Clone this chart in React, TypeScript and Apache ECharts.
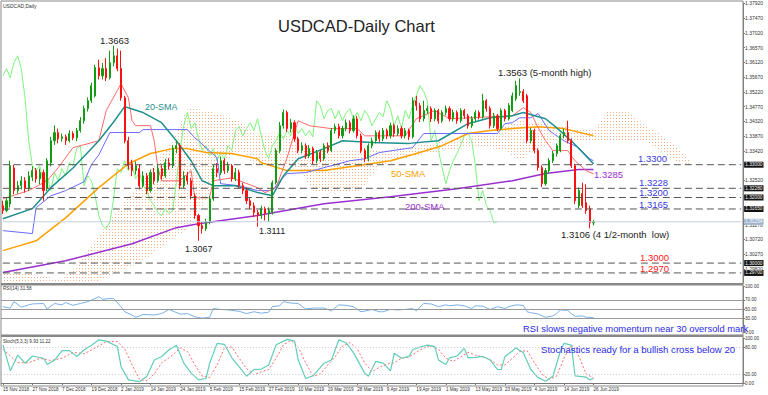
import React, { useEffect, useRef } from "react";
import * as echarts from "echarts";

const xTickLabels = ["15 Nov 2018", "27 Nov 2018", "7 Dec 2018", "19 Dec 2018", "2 Jan 2019", "14 Jan 2019", "24 Jan 2019", "5 Feb 2019", "15 Feb 2019", "27 Feb 2019", "10 Mar 2019", "19 Mar 2019", "28 Mar 2019", "9 Apr 2019", "19 Apr 2019", "1 May 2019", "13 May 2019", "23 May 2019", "4 Jun 2019", "14 Jun 2019", "26 Jun 2019"];
const slots = Array.from({ length: 201 }, (_, i) => String(i));

// [open, close, low, high]
const candles: number[][] = [
  [1.3175, 1.3160, 1.3150, 1.3190], [1.3160, 1.3190, 1.3155, 1.3200], [1.3180, 1.3297, 1.3170, 1.3312], [1.3290, 1.3221, 1.3210, 1.3300],
  [1.3221, 1.3236, 1.3212, 1.3250], [1.3236, 1.3251, 1.3225, 1.3265], [1.3251, 1.3227, 1.3215, 1.3262], [1.3227, 1.3266, 1.3220, 1.3280],
  [1.3262, 1.3282, 1.3250, 1.3295], [1.3282, 1.3257, 1.3245, 1.3290], [1.3257, 1.3276, 1.3240, 1.3288], [1.3276, 1.3221, 1.3190, 1.3285],
  [1.3227, 1.3312, 1.3220, 1.3320], [1.3306, 1.3373, 1.3295, 1.3385], [1.3373, 1.3398, 1.3360, 1.3420], [1.3398, 1.3379, 1.3365, 1.3410],
  [1.3379, 1.3385, 1.3370, 1.3395], [1.3385, 1.3373, 1.3360, 1.3392], [1.3373, 1.3395, 1.3368, 1.3405], [1.3395, 1.3382, 1.3375, 1.3402],
  [1.3382, 1.3404, 1.3372, 1.3412], [1.3404, 1.3434, 1.3398, 1.3445], [1.3434, 1.3471, 1.3425, 1.3480], [1.3471, 1.3495, 1.3462, 1.3505],
  [1.3495, 1.3541, 1.3488, 1.3550], [1.3510, 1.3596, 1.3505, 1.3605], [1.3596, 1.3571, 1.3560, 1.3620], [1.3571, 1.3593, 1.3560, 1.3610],
  [1.3593, 1.3565, 1.3555, 1.3625], [1.3565, 1.3611, 1.3560, 1.3648], [1.3611, 1.3632, 1.3600, 1.3663], [1.3632, 1.3593, 1.3585, 1.3654],
  [1.3593, 1.3504, 1.3495, 1.3648], [1.3504, 1.3373, 1.3365, 1.3510], [1.3373, 1.3297, 1.3285, 1.3385], [1.3303, 1.3282, 1.3265, 1.3315],
  [1.3282, 1.3297, 1.3270, 1.3310], [1.3288, 1.3236, 1.3225, 1.3300], [1.3236, 1.3266, 1.3230, 1.3280], [1.3266, 1.3221, 1.3210, 1.3275],
  [1.3221, 1.3276, 1.3215, 1.3285], [1.3276, 1.3251, 1.3240, 1.3290], [1.3251, 1.3288, 1.3245, 1.3300], [1.3288, 1.3266, 1.3255, 1.3298],
  [1.3266, 1.3306, 1.3260, 1.3318], [1.3306, 1.3297, 1.3285, 1.3320], [1.3297, 1.3349, 1.3290, 1.3360], [1.3349, 1.3358, 1.3335, 1.3375],
  [1.3358, 1.3236, 1.3225, 1.3365], [1.3236, 1.3266, 1.3228, 1.3280], [1.3266, 1.3251, 1.3240, 1.3278], [1.3251, 1.3205, 1.3195, 1.3260],
  [1.3205, 1.3145, 1.3135, 1.3212], [1.3145, 1.3114, 1.3068, 1.3150], [1.3114, 1.3105, 1.3090, 1.3125], [1.3105, 1.3126, 1.3098, 1.3135],
  [1.3126, 1.3196, 1.3118, 1.3205], [1.3196, 1.3288, 1.3190, 1.3300], [1.3288, 1.3276, 1.3262, 1.3305], [1.3276, 1.3312, 1.3268, 1.3325],
  [1.3312, 1.3282, 1.3272, 1.3320], [1.3282, 1.3297, 1.3275, 1.3308], [1.3297, 1.3257, 1.3248, 1.3302], [1.3257, 1.3276, 1.3250, 1.3290],
  [1.3276, 1.3236, 1.3228, 1.3285], [1.3236, 1.3221, 1.3210, 1.3245], [1.3221, 1.3190, 1.3180, 1.3230], [1.3190, 1.3175, 1.3165, 1.3200],
  [1.3175, 1.3154, 1.3140, 1.3185], [1.3154, 1.3145, 1.3111, 1.3162], [1.3145, 1.3166, 1.3135, 1.3175], [1.3166, 1.3151, 1.3130, 1.3172],
  [1.3151, 1.3160, 1.3125, 1.3170], [1.3154, 1.3245, 1.3148, 1.3252], [1.3245, 1.3343, 1.3240, 1.3350], [1.3343, 1.3419, 1.3335, 1.3430],
  [1.3419, 1.3459, 1.3410, 1.3468], [1.3459, 1.3410, 1.3400, 1.3465], [1.3410, 1.3428, 1.3398, 1.3440], [1.3428, 1.3379, 1.3370, 1.3435],
  [1.3379, 1.3343, 1.3335, 1.3385], [1.3343, 1.3358, 1.3335, 1.3368], [1.3358, 1.3327, 1.3318, 1.3365], [1.3327, 1.3349, 1.3320, 1.3360],
  [1.3349, 1.3312, 1.3302, 1.3355], [1.3312, 1.3337, 1.3305, 1.3345], [1.3337, 1.3318, 1.3308, 1.3345], [1.3318, 1.3358, 1.3312, 1.3365],
  [1.3358, 1.3343, 1.3335, 1.3368], [1.3343, 1.3404, 1.3338, 1.3412], [1.3404, 1.3416, 1.3395, 1.3425], [1.3416, 1.3388, 1.3380, 1.3425],
  [1.3388, 1.3410, 1.3380, 1.3418], [1.3410, 1.3428, 1.3402, 1.3438], [1.3428, 1.3404, 1.3395, 1.3435], [1.3404, 1.3440, 1.3398, 1.3450],
  [1.3440, 1.3388, 1.3380, 1.3448], [1.3388, 1.3343, 1.3335, 1.3395], [1.3343, 1.3318, 1.3308, 1.3350], [1.3318, 1.3358, 1.3310, 1.3365],
  [1.3358, 1.3373, 1.3350, 1.3382], [1.3373, 1.3398, 1.3365, 1.3405], [1.3398, 1.3379, 1.3370, 1.3405], [1.3379, 1.3404, 1.3372, 1.3412],
  [1.3404, 1.3388, 1.3378, 1.3410], [1.3388, 1.3419, 1.3380, 1.3428], [1.3419, 1.3395, 1.3385, 1.3425], [1.3395, 1.3410, 1.3388, 1.3420],
  [1.3410, 1.3388, 1.3380, 1.3418], [1.3388, 1.3404, 1.3380, 1.3412], [1.3404, 1.3385, 1.3375, 1.3410], [1.3385, 1.3495, 1.3380, 1.3505],
  [1.3495, 1.3480, 1.3465, 1.3510], [1.3480, 1.3440, 1.3430, 1.3488], [1.3440, 1.3465, 1.3432, 1.3495], [1.3465, 1.3471, 1.3455, 1.3480],
  [1.3471, 1.3440, 1.3430, 1.3478], [1.3440, 1.3465, 1.3432, 1.3472], [1.3465, 1.3434, 1.3425, 1.3470], [1.3434, 1.3459, 1.3428, 1.3466],
  [1.3459, 1.3471, 1.3450, 1.3480], [1.3471, 1.3440, 1.3432, 1.3478], [1.3440, 1.3459, 1.3432, 1.3468], [1.3459, 1.3434, 1.3425, 1.3465],
  [1.3434, 1.3465, 1.3428, 1.3472], [1.3465, 1.3449, 1.3440, 1.3470], [1.3449, 1.3419, 1.3410, 1.3455], [1.3419, 1.3440, 1.3412, 1.3448],
  [1.3440, 1.3459, 1.3432, 1.3466], [1.3459, 1.3446, 1.3438, 1.3465], [1.3446, 1.3495, 1.3440, 1.3516], [1.3495, 1.3471, 1.3462, 1.3500],
  [1.3471, 1.3419, 1.3410, 1.3478], [1.3419, 1.3449, 1.3412, 1.3458], [1.3449, 1.3410, 1.3402, 1.3455], [1.3410, 1.3465, 1.3405, 1.3472],
  [1.3465, 1.3440, 1.3432, 1.3470], [1.3440, 1.3480, 1.3435, 1.3488], [1.3465, 1.3510, 1.3460, 1.3520], [1.3501, 1.3541, 1.3495, 1.3556],
  [1.3520, 1.3523, 1.3510, 1.3563], [1.3523, 1.3495, 1.3488, 1.3530], [1.3510, 1.3373, 1.3365, 1.3516], [1.3373, 1.3404, 1.3365, 1.3412],
  [1.3404, 1.3343, 1.3335, 1.3410], [1.3343, 1.3291, 1.3282, 1.3350], [1.3291, 1.3242, 1.3232, 1.3298], [1.3242, 1.3282, 1.3236, 1.3290],
  [1.3282, 1.3312, 1.3275, 1.3320], [1.3312, 1.3334, 1.3305, 1.3342], [1.3334, 1.3358, 1.3325, 1.3365], [1.3343, 1.3388, 1.3338, 1.3395],
  [1.3388, 1.3398, 1.3380, 1.3410], [1.3398, 1.3373, 1.3365, 1.3434], [1.3373, 1.3297, 1.3290, 1.3380], [1.3297, 1.3190, 1.3180, 1.3303],
  [1.3175, 1.3221, 1.3168, 1.3230], [1.3212, 1.3175, 1.3168, 1.3245], [1.3184, 1.3160, 1.3150, 1.3240], [1.3166, 1.3123, 1.3106, 1.3175],
  [1.3123, 1.3126, 1.3115, 1.3132],
];

const sma20: number[][] = [[0, 1.3135], [8, 1.3166], [13, 1.3230], [19, 1.3290], [26, 1.3373], [30, 1.3430], [33, 1.3477], [35, 1.3470], [38, 1.3459], [43, 1.3428], [47, 1.3373], [51, 1.3312], [54, 1.3251], [57, 1.3236], [63, 1.3236], [69, 1.3215], [73, 1.3205], [76, 1.3266], [80, 1.3318], [87, 1.3349], [92, 1.3373], [100, 1.3368], [110, 1.3365], [118, 1.3373], [126, 1.3425], [132, 1.3443], [138, 1.3449], [141, 1.3459], [147, 1.3440], [150, 1.3413], [153, 1.3382], [154, 1.3373], [160, 1.3303]];
const sma50: number[][] = [[0, 1.3038], [9, 1.3068], [17, 1.3138], [26, 1.3230], [34, 1.3303], [40, 1.3334], [46, 1.3349], [50, 1.3349], [55, 1.3337], [62, 1.3334], [69, 1.3318], [70, 1.3306], [77, 1.3282], [87, 1.3282], [96, 1.3297], [105, 1.3312], [112, 1.3334], [119, 1.3358], [126, 1.3395], [132, 1.3404], [138, 1.3410], [145, 1.3416], [152, 1.3410], [160, 1.3388]];
const sma200: number[][] = [[0, 1.2971], [17, 1.3007], [35, 1.3059], [47, 1.3108], [53, 1.3120], [69, 1.3145], [87, 1.3181], [105, 1.3202], [123, 1.3227], [138, 1.3251], [147, 1.3273], [156, 1.3285], [160, 1.3285]];
const tenkan: number[][] = [[0, 1.3196], [7, 1.3221], [12, 1.3251], [15, 1.3291], [19, 1.3352], [26, 1.3373], [28, 1.3465], [31, 1.3526], [32, 1.3547], [34, 1.3504], [35, 1.3434], [36, 1.3419], [40, 1.3419], [41, 1.3373], [42, 1.3291], [43, 1.3251], [48, 1.3251], [51, 1.3282], [52, 1.3199], [56, 1.3199], [57, 1.3251], [62, 1.3260], [69, 1.3230], [71, 1.3215], [74, 1.3230], [77, 1.3321], [80, 1.3434], [83, 1.3419], [89, 1.3410], [96, 1.3410], [98, 1.3388], [109, 1.3388], [112, 1.3440], [117, 1.3465], [121, 1.3440], [138, 1.3449], [141, 1.3474], [143, 1.3459], [145, 1.3413], [147, 1.3373], [149, 1.3343], [153, 1.3343], [155, 1.3312], [158, 1.3282], [160, 1.3272]];
const kijun: number[][] = [[0, 1.3099], [8, 1.3090], [9, 1.3169], [13, 1.3205], [17, 1.3221], [22, 1.3248], [24, 1.3300], [26, 1.3330], [29, 1.3398], [37, 1.3398], [38, 1.3407], [50, 1.3407], [52, 1.3382], [53, 1.3373], [58, 1.3321], [59, 1.3242], [64, 1.3236], [69, 1.3221], [73, 1.3221], [75, 1.3251], [77, 1.3273], [82, 1.3276], [87, 1.3291], [94, 1.3312], [98, 1.3318], [102, 1.3337], [111, 1.3352], [114, 1.3395], [134, 1.3395], [136, 1.3425], [138, 1.3428], [140, 1.3443], [143, 1.3443], [145, 1.3456], [148, 1.3404], [152, 1.3373], [156, 1.3352], [159, 1.3318], [160, 1.3312]];
// cloud: [bar, spanA, spanB]
const cloud: number[][] = [[0, 1.2983, 1.2916], [10, 1.2962, 1.2916], [16, 1.2950, 1.2916], [20, 1.2992, 1.2931], [26, 1.3084, 1.2946], [31, 1.3160, 1.2971], [37, 1.3236, 1.3001], [40, 1.3282, 1.3023], [46, 1.3373, 1.3074], [50, 1.3474, 1.3105], [55, 1.3465, 1.3190], [60, 1.3449, 1.3312], [65, 1.3428, 1.3343], [68, 1.3395, 1.3297], [76, 1.3395, 1.3300], [80, 1.3373, 1.3290], [84, 1.3343, 1.3221], [90, 1.3343, 1.3212], [97, 1.3343, 1.3221], [102, 1.3343, 1.3297], [106, 1.3349, 1.3312], [112, 1.3358, 1.3327], [120, 1.3373, 1.3343], [128, 1.3388, 1.3358], [136, 1.3419, 1.3343], [140, 1.3434, 1.3312], [144, 1.3428, 1.3343], [150, 1.3419, 1.3373], [160, 1.3404, 1.3373], [164, 1.3465, 1.3373], [170, 1.3459, 1.3373], [174, 1.3419, 1.3373], [178, 1.3395, 1.3343], [182, 1.3358, 1.3312], [186, 1.3312, 1.3297]];

const rsi: number[][] = [[0, 55], [2, 52], [3, 66], [5, 54], [7, 59], [8, 61], [11, 62], [12, 50], [14, 62], [16, 59], [17, 64], [19, 58], [21, 62], [23, 66], [25, 73], [26, 77], [27, 71], [29, 73], [30, 73], [32, 55], [33, 44], [35, 37], [36, 32], [38, 38], [41, 37], [43, 40], [45, 49], [48, 39], [50, 40], [52, 33], [54, 30], [56, 32], [57, 51], [59, 49], [61, 48], [62, 47], [64, 45], [66, 40], [68, 44], [70, 41], [72, 43], [73, 55], [75, 57], [76, 66], [78, 63], [80, 62], [82, 50], [84, 52], [87, 52], [89, 46], [91, 59], [93, 58], [95, 55], [97, 44], [99, 47], [100, 49], [102, 44], [103, 44], [105, 49], [107, 48], [109, 49], [111, 51], [112, 46], [114, 62], [116, 61], [118, 55], [120, 59], [121, 57], [123, 59], [125, 57], [127, 51], [128, 57], [130, 56], [132, 49], [134, 55], [136, 51], [137, 55], [139, 59], [141, 58], [142, 44], [143, 42], [145, 39], [147, 32], [149, 35], [150, 40], [151, 48], [153, 47], [154, 40], [155, 34], [157, 35], [158, 32], [160, 31.58]];
const stochMain: number[][] = [[0, 84], [2, 27], [4, 62], [6, 44], [8, 60], [11, 55], [12, 41], [14, 51], [16, 72], [18, 72], [20, 59], [22, 74], [24, 84], [26, 96], [28, 93], [31, 81], [32, 36], [34, 7], [37, 3], [39, 15], [41, 51], [43, 59], [45, 74], [47, 84], [49, 44], [51, 22], [53, 7], [55, 10], [56, 44], [58, 88], [60, 86], [62, 56], [64, 36], [66, 15], [68, 30], [70, 31], [72, 40], [74, 85], [77, 97], [79, 93], [80, 51], [82, 10], [84, 16], [87, 44], [89, 51], [91, 96], [93, 89], [95, 67], [98, 22], [99, 15], [101, 48], [103, 44], [105, 27], [106, 66], [108, 55], [110, 59], [111, 74], [113, 80], [115, 84], [117, 81], [118, 51], [120, 41], [121, 56], [123, 60], [125, 77], [126, 56], [128, 57], [130, 59], [132, 51], [134, 30], [135, 30], [136, 59], [138, 71], [139, 78], [141, 67], [143, 30], [145, 12], [147, 4], [149, 15], [151, 70], [152, 88], [154, 84], [155, 16], [158, 13], [159, 7], [160, 9.93]];
const stochSignal: number[][] = [[0, 75], [4, 45], [7, 45], [10, 55], [13, 50], [16, 55], [19, 68], [22, 65], [25, 78], [28, 92], [31, 92], [33, 75], [35, 40], [37, 8], [39, 5], [41, 20], [43, 45], [46, 62], [48, 78], [50, 70], [52, 40], [54, 15], [56, 12], [58, 40], [60, 78], [62, 80], [64, 55], [66, 32], [68, 18], [70, 25], [72, 30], [74, 55], [76, 85], [78, 95], [80, 80], [82, 45], [84, 15], [86, 20], [88, 40], [90, 58], [92, 82], [94, 90], [96, 75], [98, 45], [100, 25], [102, 35], [104, 42], [106, 45], [108, 55], [110, 58], [112, 68], [114, 78], [116, 83], [118, 75], [120, 55], [122, 48], [124, 58], [126, 68], [128, 62], [130, 58], [132, 52], [134, 40], [136, 40], [138, 55], [140, 70], [142, 72], [144, 45], [146, 20], [148, 8], [150, 15], [152, 55], [154, 85], [156, 60], [158, 20], [160, 11.22]];

const priceTicks = [1.3792, 1.3747, 1.3702, 1.3657, 1.3612, 1.3567, 1.3522, 1.3477, 1.3432, 1.3387, 1.3342, 1.3297, 1.3252, 1.3207, 1.3162, 1.3117, 1.3072, 1.3027, 1.2982];
const priceLabelTicks = [1.3792, 1.3747, 1.3702, 1.3657, 1.3612, 1.3567, 1.3522, 1.3477, 1.3432, 1.3387, 1.3342, 1.3252, 1.3117, 1.3072, 1.3027, 1.2982];
const levelValues = [1.3300, 1.3228, 1.3200, 1.3165, 1.3000, 1.2970];
const levelBoxes = ["1.33000", "1.32280", "1.32000", "1.31650", "1.30000", "1.29700"];
const bidPrice = 1.3126;
const bidBox = "1.31254";
const rsiTicks = [0, 30, 50, 70, 100];
const rsiLevels = [30, 50, 70];
const stochTicks = [0, 20, 80, 100];
const stochLevels = [20, 80];
const LAST_SLOT = 200;

const FONT = "Liberation Sans, Arial, sans-serif";
const SMALL = "Liberation Sans, Arial, sans-serif";

export default function App() {
  const ref = useRef<HTMLDivElement>(null);
  useEffect(() => {
    const chart = echarts.init(ref.current!, null, { renderer: "svg" });
    const cv = document.createElement("canvas");
    cv.width = 3; cv.height = 3;
    const ctx = cv.getContext("2d")!;
    ctx.fillStyle = "#f5ae86";
    ctx.fillRect(1, 1, 1, 1);
    const hatch: any = { image: cv.toDataURL(), repeat: "repeat", imageWidth: 3, imageHeight: 3 };

    const lineS = (data: number[][], color: string, width: number, z: number, extra: any = {}) => ({
      type: "line", xAxisIndex: 0, yAxisIndex: 0, data, showSymbol: false, symbol: "none",
      lineStyle: { color, width }, silent: true, z, ...extra,
    });
    const levelS = (v: number, box: string, color: string, dash: any, bg: string) => ({
      type: "line", xAxisIndex: 0, yAxisIndex: 0, data: [[0, v], [LAST_SLOT, v]], showSymbol: false, symbol: "none", silent: true, z: 5,
      lineStyle: { color, width: 1, type: dash },
      endLabel: { show: true, formatter: box, fontSize: 4.8, color: "#fff", backgroundColor: bg, padding: [1, 1, 0, 1], distance: 3, fontFamily: SMALL },
    });
    const xAx = (gi: number, show: boolean) => ({
      type: "category", gridIndex: gi, data: slots, boundaryGap: true,
      axisLine: { show, lineStyle: { color: "#777" } },
      axisTick: show ? { show: true, alignWithLabel: true, length: 2, lineStyle: { color: "#777" }, interval: (i: number) => i % 8 === 0 && i / 8 < xTickLabels.length } : { show: false },
      axisLabel: show ? {
        show: true, fontSize: 4.6, color: "#333", fontFamily: SMALL, align: "left", margin: 1, hideOverlap: false, showMinLabel: true,
        interval: (i: number) => i % 8 === 0 && i / 8 < xTickLabels.length,
        formatter: (_v: string, i: number) => xTickLabels[i / 8] ?? "",
      } : { show: false },
      offset: show ? 3 : 0,
      splitLine: { show: false },
    });
    const yAx = (gi: number, min: number, max: number, ticks: number[], labels: number[], fmt: (v: number) => string, fs: number) => ({
      type: "value", gridIndex: gi, position: "right", min, max, scale: true,
      axisLine: { show: true, lineStyle: { color: "#777" } },
      axisTick: { show: true, length: 2, customValues: ticks, lineStyle: { color: "#777" } },
      axisLabel: { show: true, customValues: labels, formatter: fmt, fontSize: fs, color: "#333", margin: 2, fontFamily: SMALL, hideOverlap: false },
      splitLine: { show: false },
    });

    const chikou = candles.slice(26).map((c, i) => [i, c[1]]);

    const option: any = {
      animation: false,
      backgroundColor: "#fff",
      grid: [
        { left: 1, top: 3, width: 742, height: 280 },
        { left: 1, top: 286, width: 742, height: 46 },
        { left: 1, top: 338, width: 742, height: 45 },
      ],
      xAxis: [xAx(0, false), xAx(1, false), xAx(2, true)],
      yAxis: [
        yAx(0, 1.29393, 1.3793, priceTicks, priceLabelTicks, (v) => v.toFixed(5), 5),
        yAx(1, 0, 100, rsiTicks, rsiTicks, (v) => v.toFixed(2), 4.6),
        yAx(2, 0, 100, stochTicks, stochTicks, (v) => v.toFixed(2), 4.6),
      ],
      series: [
        {
          type: "custom", xAxisIndex: 0, yAxisIndex: 0, data: cloud, encode: { x: 0, y: [1, 2] }, z: 1, silent: true, clip: true,
          renderItem: (params: any, api: any) => {
            const i = params.dataIndex;
            if (i >= cloud.length - 1) return { type: "group", children: [] };
            const a = cloud[i], b = cloud[i + 1];
            const p1 = api.coord([a[0], a[1]]), p2 = api.coord([b[0], b[1]]);
            const p3 = api.coord([b[0], b[2]]), p4 = api.coord([a[0], a[2]]);
            return { type: "polygon", shape: { points: [p1, p2, p3, p4] }, style: { fill: hatch, stroke: null } };
          },
        },
        lineS(chikou, "#7cf57c", 1, 2),
        lineS(sma200, "#9b30d0", 1.5, 3),
        lineS(sma50, "#ffa000", 1.5, 3),
        lineS(kijun, "#6a6aff", 1, 3),
        lineS(tenkan, "#ff6a6a", 1, 3),
        lineS(sma20, "#1f8f8f", 1.5, 3),
        ...levelValues.map((v, i) => levelS(v, levelBoxes[i], "#555", [7, 4], "#111")),
        levelS(bidPrice, bidBox, "#c4cede", "solid", "#9fb3cf"),
        {
          type: "candlestick", xAxisIndex: 0, yAxisIndex: 0, data: candles, barWidth: 1.6, z: 4, silent: true,
          itemStyle: { color: "#129c12", color0: "#ff1010", borderColor: "#129c12", borderColor0: "#ff1010", borderWidth: 1 },
        },
        {
          type: "line", xAxisIndex: 1, yAxisIndex: 1, data: rsi, showSymbol: false, symbol: "none", silent: true,
          lineStyle: { color: "#79b0ea", width: 1 },
          markLine: { silent: true, symbol: ["none", "none"], label: { show: false }, lineStyle: { color: "#999", type: "solid", width: 1 }, data: rsiLevels.map((v) => ({ yAxis: v })) },
        },
        {
          type: "line", xAxisIndex: 2, yAxisIndex: 2, data: stochSignal, showSymbol: false, symbol: "none", silent: true,
          lineStyle: { color: "#ff6b6b", width: 1, type: [2, 2] },
          markLine: { silent: true, symbol: ["none", "none"], label: { show: false }, lineStyle: { color: "#c8c8c8", type: [1, 2], width: 1 }, data: stochLevels.map((v) => ({ yAxis: v })) },
        },
        {
          type: "line", xAxisIndex: 2, yAxisIndex: 2, data: stochMain, showSymbol: false, symbol: "none", silent: true,
          lineStyle: { color: "#62cdb8", width: 1.2 },
        },
      ],
      graphic: [
        { type: "rect", shape: { x: 1, y: 1, width: 742, height: 385 }, style: { fill: "none", stroke: "#888", lineWidth: 1 }, z: 10, silent: true },
        { type: "rect", shape: { x: 1, y: 283, width: 742, height: 2.5 }, style: { fill: "#888" }, z: 10, silent: true },
        { type: "rect", shape: { x: 1, y: 334.5, width: 742, height: 2.5 }, style: { fill: "#888" }, z: 10, silent: true },
        { type: "text", left: 3, top: 3, style: { text: "USDCAD,Daily", fontSize: 5, fill: "#333", fontFamily: SMALL }, z: 10 },
        { type: "text", left: 278, top: 17, style: { text: "USDCAD-Daily Chart", fontSize: 16.5, fill: "#222", fontFamily: FONT }, z: 10 },
        { type: "text", left: 100, top: 35, style: { text: "1.3663", fontSize: 9.5, fill: "#222", fontFamily: FONT }, z: 10 },
        { type: "text", left: 145, top: 102, style: { text: "20-SMA", fontSize: 9, fill: "#1f8f8f", fontFamily: FONT }, z: 10 },
        { type: "text", left: 185, top: 244, style: { text: "1.3067", fontSize: 9, fill: "#222", fontFamily: FONT }, z: 10 },
        { type: "text", left: 259, top: 226, style: { text: "1.3111", fontSize: 9, fill: "#222", fontFamily: FONT }, z: 10 },
        { type: "text", left: 391, top: 168, style: { text: "50-SMA", fontSize: 9.5, fill: "#f5a000", fontFamily: FONT }, z: 10 },
        { type: "text", left: 405, top: 201, style: { text: "200-SMA", fontSize: 9.5, fill: "#9b30d0", fontFamily: FONT }, z: 10 },
        { type: "text", left: 498, top: 67, style: { text: "1.3563 (5-month high)", fontSize: 9.5, fill: "#222", fontFamily: FONT }, z: 10 },
        { type: "text", left: 561, top: 229, style: { text: "1.3106 (4 1/2-month  low)", fontSize: 9.5, fill: "#222", fontFamily: FONT }, z: 10 },
        { type: "text", left: 638, top: 153, style: { text: "1.3300", fontSize: 9.5, fill: "#3a3adf", fontFamily: FONT }, z: 10 },
        { type: "text", left: 594, top: 169, style: { text: "1.3285", fontSize: 9.5, fill: "#9b30d0", fontFamily: FONT }, z: 10 },
        { type: "text", left: 639, top: 177, style: { text: "1.3228", fontSize: 9.5, fill: "#3a3adf", fontFamily: FONT }, z: 10 },
        { type: "text", left: 639, top: 187, style: { text: "1.3200", fontSize: 9.5, fill: "#3a3adf", fontFamily: FONT }, z: 10 },
        { type: "text", left: 639, top: 199, style: { text: "1.3165", fontSize: 9.5, fill: "#3a3adf", fontFamily: FONT }, z: 10 },
        { type: "text", left: 640, top: 252, style: { text: "1.3000", fontSize: 9.5, fill: "#ff2020", fontFamily: FONT }, z: 10 },
        { type: "text", left: 640, top: 263, style: { text: "1.2970", fontSize: 9.5, fill: "#ff2020", fontFamily: FONT }, z: 10 },
        { type: "text", left: 3, top: 286, style: { text: "RSI(14) 31.58", fontSize: 4.6, fill: "#333", fontFamily: SMALL }, z: 10 },
        { type: "text", left: 3, top: 339, style: { text: "Stoch(5,3,3) 9.93 11.22", fontSize: 4.6, fill: "#333", fontFamily: SMALL }, z: 10 },
        { type: "text", left: 523, top: 324, style: { text: "RSI slows negative momentum near 30 oversold mark", fontSize: 9.4, fill: "#2a2ae6", fontFamily: FONT }, z: 10 },
        { type: "text", left: 541, top: 344, style: { text: "Stochastics ready for a bullish cross below 20", fontSize: 9.6, fill: "#2a2ae6", fontFamily: FONT }, z: 10 },
      ],
    };
    chart.setOption(option);
    return () => chart.dispose();
  }, []);
  return <div ref={ref} style={{ position: "absolute", left: 0, top: 0, width: 768, height: 395, background: "#fff" }} />;
}
